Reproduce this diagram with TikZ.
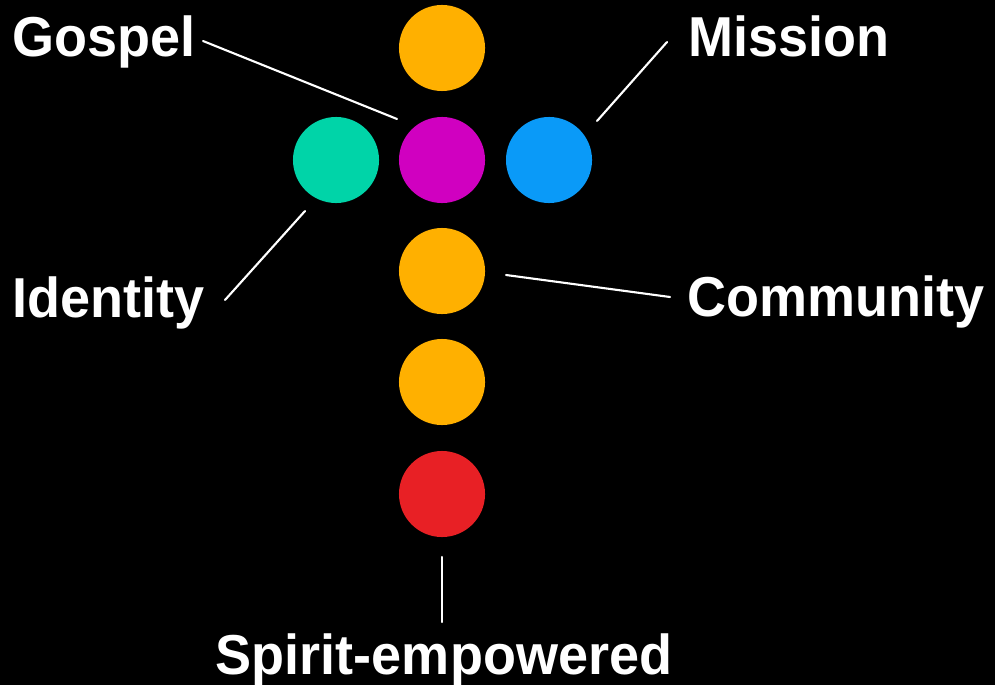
\documentclass[tikz,border=0pt]{standalone}
\usepackage{fontspec}
\setmainfont{Liberation Sans}[FakeStretch=0.96]
\usepackage{tikz}
\usetikzlibrary{calc}
\definecolor{dotorange}{HTML}{FFB000}
\definecolor{dotmagenta}{HTML}{D000C0}
\definecolor{dotteal}{HTML}{00D4A8}
\definecolor{dotblue}{HTML}{0A9AF8}
\definecolor{dotred}{HTML}{E82025}
\tikzset{
  dot/.style={circle,minimum size=0.86cm,inner sep=0pt},
  lbl/.style={text=white,inner sep=0pt,font=\bfseries\fontsize{16}{18}\selectfont},
  leader/.style={draw=white,line width=0.6pt}
}
\begin{document}
\begin{tikzpicture}[line cap=round,line join=round,x=0.01cm,y=-0.01cm]
			\fill[black] (0,0) rectangle (995,685);
			\useasboundingbox (0,0) rectangle (995,685);
			% the dots
			\node[dot,fill=dotorange] (top) at (442,48) {};
			\node[dot,fill=dotmagenta] (gospeldot) at (442,160) {};
			\node[dot,fill=dotteal] (identitydot) at (336,160) {};
			\node[dot,fill=dotblue] (missiondot) at (549,160) {};
			\node[dot,fill=dotorange] (communitydot) at (442,271) {};
			\node[dot,fill=dotorange] (mid) at (442,382) {};
			\node[dot,fill=dotred] (spiritdot) at (442,494) {};
			% labels
			\node[lbl,anchor=base west] (gospel) at (12,57) {Gospel};
			\node[lbl,anchor=base west] (mission) at (688,57) {Mission};
			\node[lbl,anchor=base west] (identity) at (12,317) {Identity};
			\node[lbl,anchor=base west] (community) at (687,316) {Community};
			\node[lbl,anchor=base] (spirit) at (444,674) {Spirit-empowered};
			% leader ends
			\coordinate (g1) at (203,41);
			\coordinate (g2) at (397,119);
			\coordinate (m1) at (667,42);
			\coordinate (m2) at (597,121);
			\coordinate (i1) at (305,211);
			\coordinate (i2) at (225,300);
			\coordinate (c1) at (506,275);
			\coordinate (c2) at (670,297);
			\coordinate (s1) at (442,557);
			\coordinate (s2) at (442,622);
			\draw[leader] (g1) -- (g2);
			\draw[leader] (m1) -- (m2);
			\draw[leader] (i1) -- (i2);
			\draw[leader] (c1) -- (c2);
			\draw[leader] (s1) -- (s2);
			\end{tikzpicture}
\end{document}
